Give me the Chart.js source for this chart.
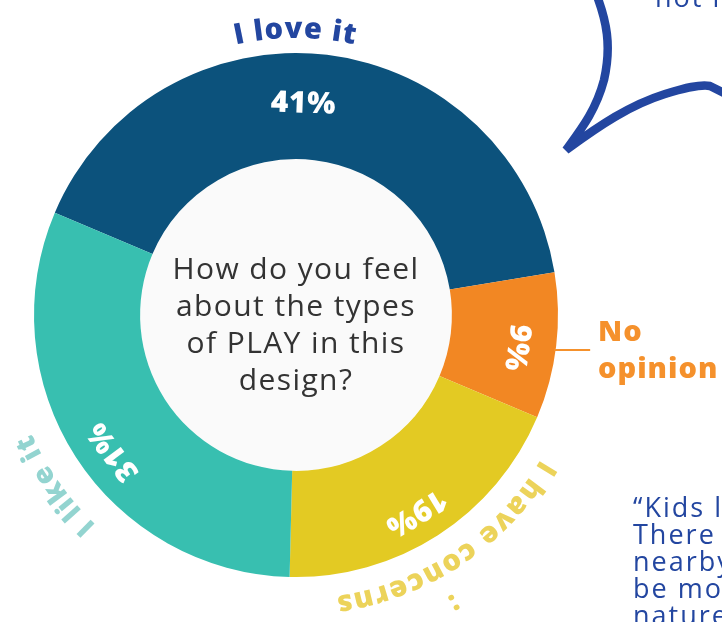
<!DOCTYPE html>
<html>
<head>
<meta charset="utf-8">
<script src="https://cdn.jsdelivr.net/npm/chart.js@4"></script>
<style>
  html, body { margin: 0; padding: 0; background: #fff; }
  body { width: 722px; height: 622px; overflow: hidden; position: relative; font-family: "Open Sans", sans-serif; }
  #chart { position: absolute; left: 0; top: 0; }
  #bubble { position: absolute; left: 0; top: 0; }
  .blue-text { position: absolute; color: #2346a0; font-size: 27px; line-height: 27px; letter-spacing: 2px; white-space: nowrap; }
</style>
</head>
<body>
<canvas id="chart" width="722" height="622"></canvas>
<svg id="bubble" width="722" height="622">
  <path d="M597 -4 C606 20 612 45 604 80 C596 110 582 128 566 150 C600 125 630 105 665 94 C685 88 700 84 710 86 L726 94"
        fill="none" stroke="#2346a0" stroke-width="8.5" stroke-linejoin="miter"/>
</svg>
<div class="blue-text" style="left:655px; top:-17px;">not likely</div>
<div class="blue-text" style="left:633px; top:493px;">“Kids love<br>There are<br>nearby<br>be more<br>nature</div>
<script>
const categories = ["I love it", "No opinion", "I have concerns", "I like it"];
const shares = [41, 9, 19, 31];
const sliceColors = ["#0c527c", "#f28723", "#e3ca23", "#38bfb0"];
const labelColors = ["#2346a0", "#f5912c", "#ecd35a", "#93d4d0"];
const question = ["How do you feel", "about the types", "of PLAY in this", "design?"];

// draw text along a circle, reading clockwise, letter tops outward
function arcText(ctx, text, cx, cy, r, mid, spacing) {
  const widths = [...text].map((ch) => ctx.measureText(ch).width + spacing);
  const total = widths.reduce((a, b) => a + b, 0) - spacing;
  let a = mid - total / (2 * r);
  [...text].forEach((ch, i) => {
    const w = widths[i] - spacing;
    const c = a + w / (2 * r);
    ctx.save();
    ctx.translate(cx + r * Math.cos(c), cy + r * Math.sin(c));
    ctx.rotate(c + Math.PI / 2);
    ctx.fillText(ch, 0, 0);
    ctx.restore();
    a += widths[i] / r;
  });
}

const deg = Math.PI / 180;

const decorPlugin = {
  id: "decor",
  beforeDatasetsDraw(chart) {
    const arc = chart.getDatasetMeta(0).data[0];
    const ctx = chart.ctx;
    ctx.save();
    ctx.fillStyle = "#fafafa";
    ctx.beginPath();
    ctx.arc(arc.x, arc.y, arc.innerRadius, 0, Math.PI * 2);
    ctx.fill();
    ctx.restore();
  },
  afterDatasetsDraw(chart) {
    const ctx = chart.ctx;
    const arcs = chart.getDatasetMeta(0).data;
    const cx = arcs[0].x, cy = arcs[0].y;
    const outer = arcs[0].outerRadius;
    ctx.save();
    ctx.textAlign = "center";
    ctx.textBaseline = "middle";

    // percentages inside slices
    ctx.fillStyle = "#ffffff";
    ctx.font = "800 30px 'Open Sans'";
    ctx.letterSpacing = "0.5px";
    const pctShift = [-4.8, 1.6, 1.5, -4];
    const pctRadius = [211, 223, 231, 228];
    arcs.forEach((a, i) => {
      const mid = (a.startAngle + a.endAngle) / 2 + pctShift[i] * deg;
      const r = pctRadius[i];
      ctx.save();
      ctx.translate(cx + r * Math.cos(mid), cy + r * Math.sin(mid));
      ctx.rotate(mid + Math.PI / 2);
      ctx.fillText(shares[i] + "%", 0, 0);
      ctx.restore();
    });

    // question in the hole
    ctx.fillStyle = "#333333";
    ctx.font = "400 30px 'Open Sans'";
    ctx.letterSpacing = "1.4px";
    question.forEach((line, i) => {
      ctx.fillText(line, cx, cy - 45 + i * 37);
    });
    ctx.letterSpacing = "0px";

    // curved category labels
    ctx.textBaseline = "alphabetic";
    ctx.font = "800 29px 'Open Sans'";
    ctx.fillStyle = labelColors[0];
    const m0 = (arcs[0].startAngle + arcs[0].endAngle) / 2;
    arcText(ctx, categories[0], cx, cy, 277, m0 - 7 * deg, 1);

    ctx.fillStyle = labelColors[2];
    const m2 = (arcs[2].startAngle + arcs[2].endAngle) / 2;
    arcText(ctx, categories[2], cx, cy, 284, m2 - 1 * deg, 1.5);
    arcText(ctx, ":", cx, cy, 320, m2 + 4 * deg, 0);

    ctx.fillStyle = labelColors[3];
    ctx.font = "800 28px 'Open Sans'";
    const m3 = (arcs[3].startAngle + arcs[3].endAngle) / 2;
    arcText(ctx, categories[3], cx, cy, 290, m3 - 2.5 * deg, 1.5);

    // "No opinion" with leader line
    const a1 = arcs[1];
    const m1 = (a1.startAngle + a1.endAngle) / 2;
    const ly = cy + outer * Math.sin(m1) + 4;
    ctx.strokeStyle = labelColors[1];
    ctx.lineWidth = 2;
    ctx.beginPath();
    ctx.moveTo(cx + outer * Math.cos(m1) - 2, ly);
    ctx.lineTo(cx + outer * Math.cos(m1) + 34, ly);
    ctx.stroke();
    ctx.fillStyle = labelColors[1];
    ctx.font = "800 29px 'Open Sans'";
    ctx.letterSpacing = "1px";
    ctx.textAlign = "left";
    ctx.fillText("No", 598, ly - 9);
    ctx.fillText("opinion", 598, ly + 28);
    ctx.restore();
  }
};

new Chart(document.getElementById("chart"), {
  type: "doughnut",
  data: {
    labels: categories,
    datasets: [{
      data: shares,
      backgroundColor: sliceColors,
      borderWidth: 0,
      hoverOffset: 0
    }]
  },
  options: {
    responsive: false,
    animation: false,
    rotation: -67,
    cutout: "59.5%",
    layout: { padding: { left: 34, right: 164, top: 53, bottom: 45 } },
    plugins: { legend: { display: false }, tooltip: { enabled: false } }
  },
  plugins: [decorPlugin]
});
</script>
</body>
</html>
